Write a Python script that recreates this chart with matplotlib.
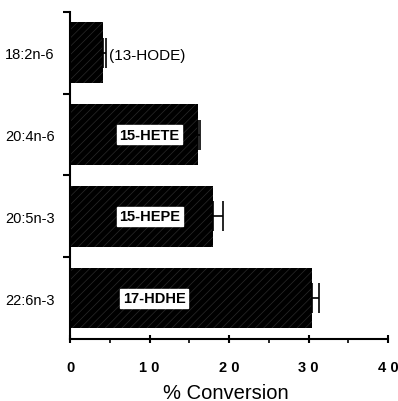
import matplotlib
matplotlib.use("Agg")
import matplotlib.pyplot as plt
from matplotlib.ticker import MultipleLocator

categories = ["18:2n-6", "20:4n-6", "20:5n-3", "22:6n-3"]
values = [4.1, 16.1, 18.0, 30.4]
errors = [0.4, 0.3, 1.2, 0.9]
products = ["(13-HODE)", "15-HETE", "15-HEPE", "17-HDHE"]
xticks = [0, 10, 20, 30, 40]

plt.rcParams['font.family'] = ['Liberation Sans', 'DejaVu Sans']
plt.rcParams['hatch.color'] = '#333333'
plt.rcParams['hatch.linewidth'] = 0.5

fig = plt.figure(figsize=(3.98, 4.02), dpi=100)
ax = fig.add_axes([0.176, 0.154, 0.799, 0.814])

y = list(range(len(categories)))
ax.barh(y, values, height=0.74, color='black', hatch='////', edgecolor='#2a2a2a', linewidth=0)
ax.errorbar(values, y, xerr=[[0]*len(values), errors], fmt='none', ecolor='black',
            elinewidth=1.2, capsize=11, capthick=1.2)

for i, (v, p) in enumerate(zip(values, products)):
    if i == 0:
        ax.text(v + errors[i] + 0.4, i + 0.03, p, va='center', ha='left', fontsize=11)
    else:
        ax.text(10.0 if i != 3 else 10.6, i, p, va='center', ha='center', fontsize=10.5,
                fontweight='bold',
                bbox=dict(facecolor='white', edgecolor='white', pad=1.8))

ax.set_xlim(0, 40)
ax.set_ylim(3.5, -0.5)
ax.set_xticks(xticks)
ax.set_xticklabels([" ".join(str(t)) for t in xticks], fontweight='bold', fontsize=10.5)
ax.xaxis.set_minor_locator(MultipleLocator(5))
ax.set_yticks([-0.5, 0.5, 1.5, 2.5])
ax.set_yticklabels([])
ax.set_yticks(y, minor=True)
ax.set_yticklabels(categories, minor=True, fontsize=10.5)
ax.tick_params(axis='y', which='minor', length=0, pad=11)
ax.tick_params(axis='y', which='major', length=5, width=1.5, direction='out')
ax.tick_params(axis='x', which='major', length=6, width=1.5, direction='inout', pad=12)
ax.tick_params(axis='x', which='minor', length=3, width=1.2, direction='out')

for s in ['top', 'right']:
    ax.spines[s].set_visible(False)
for s in ['left', 'bottom']:
    ax.spines[s].set_linewidth(1.5)

ax.set_xlabel("% Conversion", fontsize=14.5, fontweight='medium')
ax.xaxis.set_label_coords(0.49, -0.163)
ax.xaxis.label.set_verticalalignment('center')

fig.savefig("out.png", dpi=100)
